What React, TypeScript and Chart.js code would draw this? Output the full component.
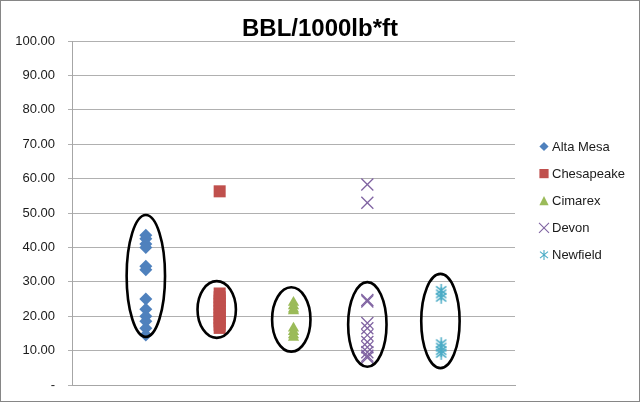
import React, { useEffect, useRef } from "react";
import { Chart, registerables } from "chart.js";

Chart.register(...registerables);

const seriesNames = ["Alta Mesa", "Chesapeake", "Cimarex", "Devon", "Newfield"];
const seriesX = [1, 2, 3, 4, 5];
const seriesColors = ["#4F81BD", "#C0504D", "#9BBB59", "#8064A2", "#4BACC6"];

const altaMesa = [43.5, 42.5, 41.0, 40.0, 34.5, 33.5, 25.0, 22.0, 20.0, 18.5, 16.5, 14.5];
const chesapeake = [56.3, 26.6, 25.5, 24.5, 23.5, 22.5, 21.5, 20.5, 19.5, 18.5, 17.5, 16.6];
const cimarex = [24.0, 23.0, 22.0, 21.5, 16.5, 15.5, 14.5, 13.8];
const devon = [58.3, 53.0, 24.7, 24.3, 18.0, 16.5, 14.5, 12.5, 11.0, 9.5, 8.5, 8.0];
const newfield = [27.5, 26.5, 25.5, 12.0, 11.0, 10.0, 9.2];

const yTickMin = 0;
const yTickMax = 100;
const yTickStep = 10;

// ellipses drawn around the main clusters
const ellipseCenterX = [1.0, 1.96, 2.97, 4.0, 4.99];
const ellipseLow = [14.0, 13.7, 9.7, 5.3, 4.9];
const ellipseHigh = [49.4, 30.2, 28.4, 29.9, 32.3];
const ellipseHalfWidth = 0.26;

const FONT = "'Liberation Sans', Arial, sans-serif";

function makeAsterisk(color: string, size: number, lw: number) {
  const c = document.createElement("canvas");
  c.width = size;
  c.height = size;
  const ctx = c.getContext("2d")!;
  ctx.strokeStyle = color;
  ctx.lineWidth = lw;
  const m = size / 2;
  const r = size / 2 - 1;
  ctx.beginPath();
  ctx.moveTo(m, m - r);
  ctx.lineTo(m, m + r);
  const d = r * 0.78;
  ctx.moveTo(m - d, m - d * 0.8);
  ctx.lineTo(m + d, m + d * 0.8);
  ctx.moveTo(m + d, m - d * 0.8);
  ctx.lineTo(m - d, m + d * 0.8);
  ctx.stroke();
  return c;
}

function drawMarker(ctx: CanvasRenderingContext2D, kind: number, x: number, y: number, s: number, color: string) {
  ctx.save();
  ctx.fillStyle = color;
  ctx.strokeStyle = color;
  ctx.lineWidth = 1.1;
  ctx.beginPath();
  if (kind === 0) {
    ctx.moveTo(x, y - s);
    ctx.lineTo(x + s, y);
    ctx.lineTo(x, y + s);
    ctx.lineTo(x - s, y);
    ctx.closePath();
    ctx.fill();
  } else if (kind === 1) {
    ctx.rect(x - s, y - s, 2 * s, 2 * s);
    ctx.fill();
  } else if (kind === 2) {
    ctx.moveTo(x, y - s);
    ctx.lineTo(x + s, y + s);
    ctx.lineTo(x - s, y + s);
    ctx.closePath();
    ctx.fill();
  } else if (kind === 3) {
    ctx.moveTo(x - s, y - s);
    ctx.lineTo(x + s, y + s);
    ctx.moveTo(x + s, y - s);
    ctx.lineTo(x - s, y + s);
    ctx.stroke();
  } else {
    ctx.moveTo(x, y - s);
    ctx.lineTo(x, y + s);
    ctx.moveTo(x - s * 0.8, y - s * 0.65);
    ctx.lineTo(x + s * 0.8, y + s * 0.65);
    ctx.moveTo(x + s * 0.8, y - s * 0.65);
    ctx.lineTo(x - s * 0.8, y + s * 0.65);
    ctx.stroke();
  }
  ctx.restore();
}

export default function App() {
  const ref = useRef<HTMLCanvasElement | null>(null);

  useEffect(() => {
    document.body.style.margin = "0";
    if (!ref.current) return;
    const seriesValues = [altaMesa, chesapeake, cimarex, devon, newfield];
    const asterisk = makeAsterisk(seriesColors[4], 15, 1.5);
    const styles: any[] = ["rectRot", "rect", "triangle", "crossRot", asterisk];
    const radii = [6.5, 8.5, 6.5, 8.5, 7];

    const ellipsePlugin = {
      id: "ellipses",
      afterDatasetsDraw(chart: any) {
        const { ctx, scales } = chart;
        const xs = scales.x;
        const ys = scales.y;
        ctx.save();
        ctx.strokeStyle = "#000";
        ctx.lineWidth = 2.6;
        for (let i = 0; i < ellipseCenterX.length; i++) {
          const cx = xs.getPixelForValue(ellipseCenterX[i]);
          const rx = Math.abs(xs.getPixelForValue(ellipseCenterX[i] + ellipseHalfWidth) - cx);
          const top = ys.getPixelForValue(ellipseHigh[i]);
          const bot = ys.getPixelForValue(ellipseLow[i]);
          ctx.beginPath();
          ctx.ellipse(cx, (top + bot) / 2, rx, Math.abs(bot - top) / 2, 0, 0, Math.PI * 2);
          ctx.stroke();
        }
        ctx.restore();
      },
    };

    const legendPlugin = {
      id: "customLegend",
      afterDraw(chart: any) {
        const { ctx } = chart;
        ctx.save();
        ctx.font = `13px ${FONT}`;
        ctx.textBaseline = "middle";
        ctx.textAlign = "left";
        for (let i = 0; i < seriesNames.length; i++) {
          const y = 146.5 + i * 27.1;
          drawMarker(ctx, i, 544, y, i === 3 || i === 4 ? 5 : 4.6, seriesColors[i]);
          ctx.fillStyle = "#1a1a1a";
          ctx.fillText(seriesNames[i], 552, y + 1);
        }
        // outer chart border
        ctx.strokeStyle = "#868686";
        ctx.lineWidth = 1;
        ctx.strokeRect(0.5, 0.5, chart.width - 1, chart.height - 1);
        ctx.restore();
      },
    };

    const chart = new Chart(ref.current, {
      type: "scatter",
      data: {
        datasets: seriesNames.map((name, i) => ({
          label: name,
          data: seriesValues[i].map((v) => ({ x: seriesX[i], y: v })),
          pointStyle: styles[i],
          pointRadius: radii[i],
          pointHoverRadius: radii[i],
          backgroundColor: seriesColors[i],
          borderColor: seriesColors[i],
          borderWidth: i === 3 ? 1.3 : 0,
        })),
      },
      options: {
        animation: false,
        responsive: false,
        devicePixelRatio: 1,
        layout: { padding: { left: 0, right: 0, top: 0, bottom: 17 } },
        plugins: {
          legend: { display: false },
          tooltip: { enabled: false },
          title: {
            display: true,
            text: "BBL/1000lb*ft",
            color: "#000",
            font: { family: FONT, size: 24, weight: "bold", lineHeight: 1.0 },
            padding: { top: 17, bottom: 0 },
          },
        },
        scales: {
          x: {
            type: "linear",
            min: 0,
            max: 6,
            afterFit: (s: any) => {
              s.height = 0;
            },
            ticks: { display: false },
            grid: { display: false, drawTicks: false },
            border: { display: true, color: "#A6A6A6", width: 1 },
          },
          y: {
            type: "linear",
            min: yTickMin,
            max: yTickMax,
            afterFit: (s: any) => {
              s.width = 72;
              s.paddingTop = 4;
              s.paddingBottom = 4;
            },
            ticks: {
              stepSize: yTickStep,
              padding: 13,
              color: "#1a1a1a",
              font: { family: FONT, size: 13 },
              callback: (v: any) => (Number(v) === 0 ? "-" : Number(v).toFixed(2)),
            },
            grid: { color: "#B0B0B0", tickLength: 4, drawTicks: true },
            border: { display: true, color: "#A6A6A6", width: 1 },
          },
          legendSpace: {
            type: "linear",
            position: "right",
            display: true,
            afterFit: (s: any) => {
              s.width = 125;
              s.paddingTop = 0;
              s.paddingBottom = 0;
            },
            ticks: { display: false },
            grid: { display: false, drawTicks: false },
            border: { display: false },
          },
        },
      },
      plugins: [ellipsePlugin, legendPlugin],
    });
    return () => chart.destroy();
  }, []);

  return (
    <div style={{ width: 640, height: 402, background: "#fff" }}>
      <canvas ref={ref} width={640} height={402} style={{ display: "block" }} />
    </div>
  );
}
